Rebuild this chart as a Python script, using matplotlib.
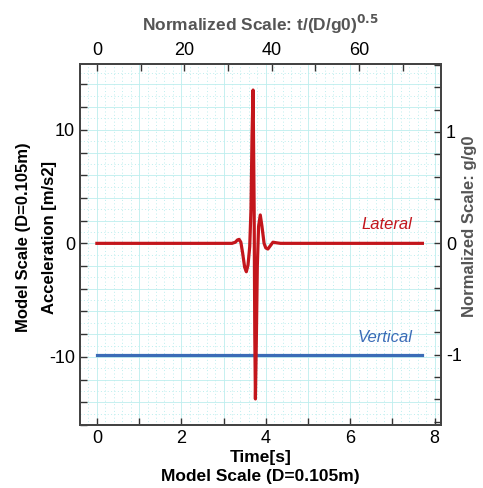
import numpy as np
import matplotlib
matplotlib.use("Agg")
import matplotlib.pyplot as plt
from matplotlib.ticker import MultipleLocator, FuncFormatter

plt.rcParams['font.family'] = ['Liberation Sans', 'DejaVu Sans']

# model scale constants
D = 0.105
g0 = 9.81
ts = np.sqrt(D / g0)   # time scale for normalized axis

# lateral acceleration
t_lat = [0.00, 3.20, 3.28, 3.33, 3.37, 3.41, 3.45, 3.50, 3.54, 3.58, 3.62,
         3.65, 3.675, 3.70, 3.725, 3.74, 3.755, 3.775, 3.80, 3.83, 3.87,
         3.91, 3.96, 4.00, 4.05, 4.11, 4.17, 4.25, 4.35, 7.71]
a_lat = [0.0, 0.0, 0.1, 0.3, 0.35, 0.1, -0.8, -2.1, -2.5, -1.9, -0.3,
         3.0, 9.5, 13.5, 3.0, -8.0, -13.7, -9.0, -2.0, 1.5, 2.5,
         1.5, 0.0, -0.4, -0.5, -0.2, 0.1, 0.05, 0.0, 0.0]

# vertical acceleration
t_ver = [0.00, 7.71]
a_ver = [-9.81, -9.81]

red = '#c3161c'
blue = '#3b6cb7'
grid_c = '#bdeeee'

fig = plt.figure(figsize=(4.83, 4.88), dpi=100)
ax = fig.add_axes([0.1656, 0.129, 0.7474, 0.740])

ax.set_xlim(-0.4, 8.15)
ax.set_ylim(-16, 15.8)

ax.xaxis.set_major_locator(MultipleLocator(1))
ax.xaxis.set_minor_locator(MultipleLocator(0.2))
ax.xaxis.set_major_formatter(FuncFormatter(lambda v, p: f'{v:.0f}' if round(v) % 2 == 0 else ''))
ax.yaxis.set_major_locator(MultipleLocator(2))
ax.yaxis.set_minor_locator(MultipleLocator(1))
ax.yaxis.set_major_formatter(FuncFormatter(lambda v, p: f'{v:.0f}' if round(v) % 10 == 0 else ''))
ax.grid(which='major', color=grid_c, lw=0.6, ls='-')
ax.grid(which='minor', color=grid_c, lw=0.7, ls=(0, (1, 2.5)))
ax.set_axisbelow(True)

ax.plot(t_ver, a_ver, color=blue, lw=2.3)
ax.plot(t_lat, a_lat, color=red, lw=2.3)

ax.text(7.48, 1.3, 'Lateral', color=red, fontsize=12, style='italic', ha='right', va='baseline')
ax.text(7.48, -8.7, 'Vertical', color=blue, fontsize=12, style='italic', ha='right', va='baseline')

ax.tick_params(which='major', direction='in', length=5, width=1, colors='#333333', labelsize=13,
               labelcolor='black')
ax.tick_params(which='minor', length=0)
for s in ax.spines.values():
    s.set_color('#444444')
    s.set_linewidth(1.2)

ax.set_xlabel('Time[s]\nModel Scale (D=0.105m)', fontsize=12.5, fontweight='bold', labelpad=2,
              linespacing=1.4)
ax.set_ylabel('Model Scale (D=0.105m)\nAcceleration [m/s2]', fontsize=12, fontweight='bold',
              linespacing=1.9)
ax.yaxis.set_label_coords(-0.064, 0.52)

# normalized top axis
axt = ax.twiny()
axt.set_xlim(ax.get_xlim()[0] / ts, ax.get_xlim()[1] / ts)
axt.xaxis.set_major_locator(MultipleLocator(10))
axt.xaxis.set_major_formatter(FuncFormatter(lambda v, p: f'{v:.0f}' if round(v) % 20 == 0 else ''))
axt.tick_params(direction='in', length=5, width=1, colors='#333333', labelsize=13, labelcolor='black')
axt.set_xlabel(r'Normalized Scale: t/(D/g0)$^{\mathbf{0.5}}$', fontsize=12.5, fontweight='bold',
               color='#555555', labelpad=8)

# normalized right axis
axr = ax.twinx()
axr.set_ylim(ax.get_ylim()[0] / g0, ax.get_ylim()[1] / g0)
axr.yaxis.set_major_locator(MultipleLocator(0.2))
axr.yaxis.set_major_formatter(FuncFormatter(lambda v, p: f'{v:.0f}' if abs(v - round(v)) < 1e-6 else ''))
axr.tick_params(direction='in', length=5, width=1, colors='#333333', labelsize=13, labelcolor='black')
axr.set_ylabel('Normalized Scale: g/g0', fontsize=12, fontweight='bold', color='#555555')
axr.yaxis.set_label_coords(1.058, 0.55)
for a in (axt, axr):
    for s in a.spines.values():
        s.set_color('#444444')
        s.set_linewidth(1.2)

fig.savefig('out.png', dpi=100)
